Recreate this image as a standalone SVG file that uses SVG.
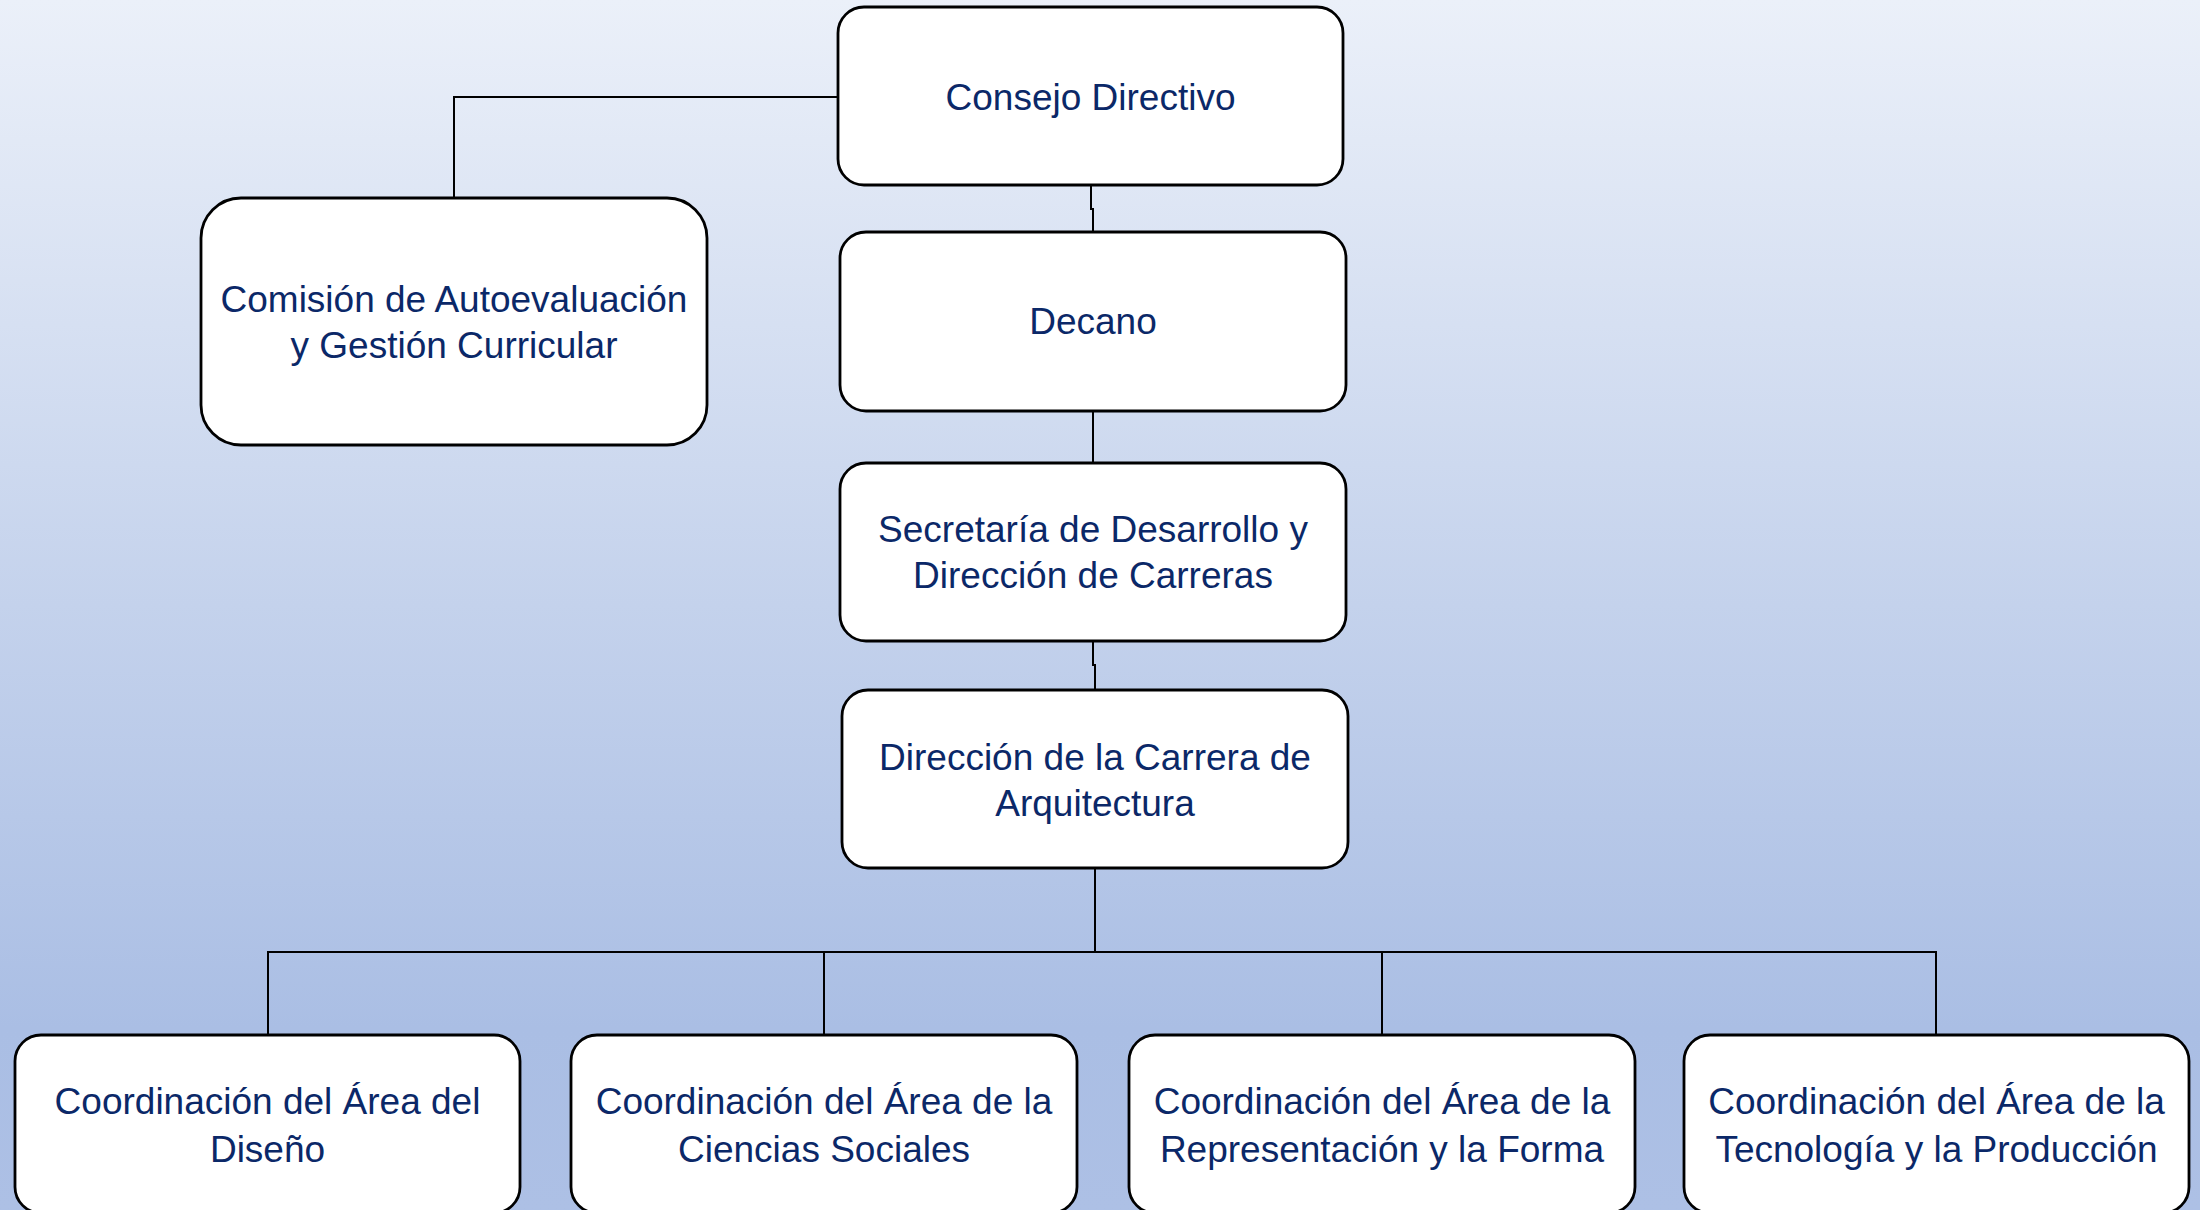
<svg xmlns="http://www.w3.org/2000/svg" width="2200" height="1210" viewBox="0 0 2200 1210">
<defs>
<linearGradient id="bg" x1="0" y1="0" x2="0" y2="1">
<stop offset="0" stop-color="#ebf0f9"/>
<stop offset="0.5" stop-color="#c4d2ec"/>
<stop offset="0.85" stop-color="#aabee4"/>
<stop offset="1" stop-color="#adc0e5"/>
</linearGradient>
<style>
.box{fill:#ffffff;stroke:#000000;stroke-width:2.8}
.t{font-family:"Liberation Sans",Arial,sans-serif;font-size:37px;fill:#0b2868;text-anchor:middle}
.c{fill:none;stroke:#000000;stroke-width:2}
</style>
</defs>
<rect x="0" y="0" width="2200" height="1210" fill="url(#bg)"/>
<g id="connectors">
<path class="c" d="M838,97 H454 V198"/>
<path class="c" d="M1091,186 V209 H1093 V232"/>
<path class="c" d="M1093,411 V463"/>
<path class="c" d="M1093,641 V665 H1095 V690"/>
<path class="c" d="M1095,868 V952"/>
<path class="c" d="M268,1035 V952 H1936 V1035"/>
<path class="c" d="M824,952 V1035"/>
<path class="c" d="M1382,952 V1035"/>
</g>
<g id="consejo">
<rect class="box" x="838" y="7" width="505" height="178" rx="26"/>
<text class="t" x="1090.5" y="110">Consejo Directivo</text>
</g>
<g id="comision">
<rect class="box" x="201" y="198" width="506" height="247" rx="40"/>
<text class="t" x="454" y="312">Comisión de Autoevaluación</text>
<text class="t" x="454" y="358">y Gestión Curricular</text>
</g>
<g id="decano">
<rect class="box" x="840" y="232" width="506" height="179" rx="26"/>
<text class="t" x="1093" y="334">Decano</text>
</g>
<g id="secretaria">
<rect class="box" x="840" y="463" width="506" height="178" rx="26"/>
<text class="t" x="1093" y="542">Secretaría de Desarrollo y</text>
<text class="t" x="1093" y="588">Dirección de Carreras</text>
</g>
<g id="direccion">
<rect class="box" x="842" y="690" width="506" height="178" rx="26"/>
<text class="t" x="1095" y="770">Dirección de la Carrera de</text>
<text class="t" x="1095" y="816">Arquitectura</text>
</g>
<g id="diseno">
<rect class="box" x="15" y="1035" width="505" height="178" rx="26"/>
<text class="t" x="267.5" y="1114">Coordinación del Área del</text>
<text class="t" x="267.5" y="1162">Diseño</text>
</g>
<g id="sociales">
<rect class="box" x="571" y="1035" width="506" height="178" rx="26"/>
<text class="t" x="824" y="1114">Coordinación del Área de la</text>
<text class="t" x="824" y="1162">Ciencias Sociales</text>
</g>
<g id="representacion">
<rect class="box" x="1129" y="1035" width="506" height="178" rx="26"/>
<text class="t" x="1382" y="1114">Coordinación del Área de la</text>
<text class="t" x="1382" y="1162">Representación y la Forma</text>
</g>
<g id="tecnologia">
<rect class="box" x="1684" y="1035" width="505" height="178" rx="26"/>
<text class="t" x="1936.5" y="1114">Coordinación del Área de la</text>
<text class="t" x="1936.5" y="1162">Tecnología y la Producción</text>
</g>
</svg>
